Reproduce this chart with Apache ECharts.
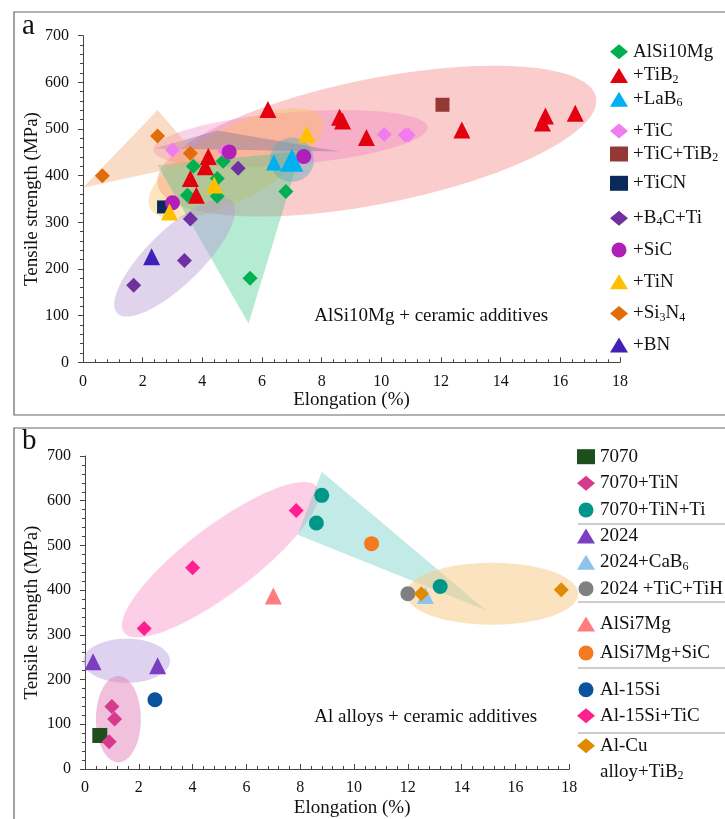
<!DOCTYPE html>
<html><head><meta charset="utf-8">
<script src="https://cdn.jsdelivr.net/npm/echarts@6/dist/echarts.min.js"></script>
<style>html,body{margin:0;padding:0;background:#fff}#c{width:725px;height:819px}</style>
</head><body><div id="c"></div>
<script>
// ---------- Panel a data: [elongation %, tensile strength MPa] ----------
const aAlSi10Mg = [[3.7,420],[4.7,431],[4.5,394],[3.5,358],[4.5,356],[6.8,366],[5.6,180]];
const aTiB2 = [[4.2,441],[4.1,419],[3.6,394],[3.8,358],[6.2,542],[8.6,525],[8.7,517],[9.5,482],[12.7,498],[15.5,528],[15.4,513],[16.5,534]];
const aLaB6 = [[6.4,428],[7.0,433]];
const aTiC = [[3.0,455],[4.75,453],[10.1,488],[10.8,487],[10.9,487]];
const aTiCTiB2 = [[12.05,552]];
const aTiCN = [[2.7,333]];
const aB4CTi = [[5.2,416],[3.6,307],[3.4,218],[1.7,165]];
const aSiC = [[4.9,451],[7.4,441],[3.0,342]];
const aTiN = [[4.4,380],[2.9,322],[7.5,489]];
const aSi3N4 = [[0.65,400],[2.5,485],[3.6,448]];
const aBN = [[2.3,226]];

// ---------- Panel b data ----------
const b7070 = [[0.55,75]];
const b7070TiN = [[1.0,140],[1.1,112],[0.9,61]];
const b7070TiNTi = [[8.8,612],[8.6,550],[13.2,408]];
const b2024 = [[0.3,240],[2.7,231]];
const b2024CaB6 = [[12.65,388]];
const b2024TiCTiH = [[12.0,392]];
const bAlSi7Mg = [[7.0,387]];
const bAlSi7MgSiC = [[10.65,504]];
const bAl15Si = [[2.6,155]];
const bAl15SiTiC = [[2.2,314],[4.0,450],[7.85,578]];
const bAlCuTiB2 = [[12.5,392],[17.7,401]];

// axis ticks
const xMin = 0, xMax = 18, xStep = 2;
const yMin = 0, yMax = 700, yStep = 100;

// shaded group regions (data coordinates)
const regionsA = [
  {kind:'ellipse', a:[2.5,380], b:[17.2,568], ratio:0.28, fill:'rgba(245,120,120,0.38)'},
  {kind:'ellipse', a:[2.35,455], b:[11.55,504], ratio:0.19, fill:'rgba(240,110,190,0.30)'},
  {kind:'ellipse', a:[2.25,330], b:[8.0,523], ratio:0.37, fill:'rgba(250,190,90,0.40)'},
  {kind:'polygon', pts:[[2.4,458],[4.5,497],[8.6,452]], fill:'rgba(110,100,150,0.35)'},
  {kind:'polygon', pts:[[2.5,423],[7.3,452],[5.55,83]], fill:'rgba(60,200,140,0.38)'},
  {kind:'ellipse', a:[1.15,105], b:[5.0,345], ratio:0.34, fill:'rgba(180,150,210,0.42)'},
  {kind:'polygon', pts:[[0,374],[2.5,541],[4.0,430]], fill:'rgba(240,170,120,0.42)'},
  {kind:'ellipse', a:[6.26,434], b:[7.74,434], ratio:1, fill:'rgba(90,170,190,0.45)'}
];
const regionsB = [
  {kind:'ellipse', a:[1.45,305], b:[8.62,631], ratio:0.28, fill:'rgba(250,160,205,0.5)'},
  {kind:'polygon', pts:[[8.8,665],[7.9,524],[14.9,355]], fill:'rgba(110,205,195,0.42)'},
  {kind:'ellipse', a:[11.93,392], b:[18.33,392], ratio:0.36, fill:'rgba(250,200,130,0.5)'},
  {kind:'ellipse', a:[-0.06,242], b:[3.16,242], ratio:0.51, fill:'rgba(190,165,225,0.5)'},
  {kind:'ellipse', a:[1.24,208], b:[1.24,15], ratio:0.52, fill:'rgba(225,130,185,0.5)'}
];
const noteA = {text:'AlSi10Mg + ceramic additives', at:[11.67,99]};
const noteB = {text:'Al alloys + ceramic additives', at:[12.66,116]};

const SERIF = 'Liberation Serif';
const labelMap = {
  '+TiB2':'+TiB{s|2}', '+LaB6':'+LaB{s|6}', '+TiC+TiB2':'+TiC+TiB{s|2}',
  '+B4C+Ti':'+B{s|4}C+Ti', '+Si3N4':'+Si{s|3}N{s|4}', '2024+CaB6':'2024+CaB{s|6}',
  'Al-Cu alloy+TiB2':'Al-Cu'
};

function ellipsePts(p1,p2,ratio){
  const cx=(p1[0]+p2[0])/2, cy=(p1[1]+p2[1])/2;
  const dx=p2[0]-p1[0], dy=p2[1]-p1[1];
  const A=Math.hypot(dx,dy)/2, B=A*ratio, t=Math.atan2(dy,dx);
  const pts=[];
  for(let k=0;k<90;k++){
    const u=k/90*2*Math.PI, ex=A*Math.cos(u), ey=B*Math.sin(u);
    pts.push([cx+ex*Math.cos(t)-ey*Math.sin(t), cy+ex*Math.sin(t)+ey*Math.cos(t)]);
  }
  return pts;
}
function regionSeries(regions, gi){
  return {
    type:'custom', xAxisIndex:gi, yAxisIndex:gi, silent:true, z:1, clip:false,
    data: regions.map(r => r.kind==='polygon' ? r.pts[0] : r.a),
    renderItem: function(params, api){
      const r = regions[params.dataIndex];
      let pts;
      if (r.kind==='polygon') pts = r.pts.map(p => api.coord(p));
      else pts = ellipsePts(api.coord(r.a), api.coord(r.b), r.ratio);
      return {type:'polygon', shape:{points:pts}, style:{fill:r.fill, stroke:null}};
    }
  };
}
function noteSeries(note, gi){
  return {
    type:'custom', xAxisIndex:gi, yAxisIndex:gi, silent:true, z:3,
    data:[note.at],
    renderItem: function(params, api){
      const p = api.coord(note.at);
      return {type:'text', x:p[0], y:p[1], style:{text:note.text, fontFamily:SERIF, fontSize:19, fill:'#111', align:'center', verticalAlign:'middle'}};
    }
  };
}
function sc(name, data, symbol, size, color, gi){
  return {name, type:'scatter', xAxisIndex:gi, yAxisIndex:gi, data, symbol, symbolSize:size,
    itemStyle:{color, opacity:1}, z:5, emphasis:{disabled:true}};
}
function xAx(gi, gap, pad){
  return {type:'value', gridIndex:gi, min:xMin, max:xMax, interval:xStep,
    axisLine:{show:true, lineStyle:{color:'#444', width:1}},
    axisTick:{show:true, inside:true, length:5, lineStyle:{color:'#444'}},
    minorTick:{show:true, splitNumber:5, length:3, lineStyle:{color:'#444'}},
    splitLine:{show:false},
    axisLabel:{margin:11, fontFamily:SERIF, fontSize:16, color:'#111'},
    name:'Elongation (%)', nameLocation:'middle', nameGap:gap, nameMoveOverlap:false,
    nameTextStyle:{fontFamily:SERIF, fontSize:19, color:'#111', padding:pad}};
}
function yAx(gi, gap){
  return {type:'value', gridIndex:gi, min:yMin, max:yMax, interval:yStep,
    axisLine:{show:true, lineStyle:{color:'#444', width:1}},
    axisTick:{show:true, inside:false, length:5, lineStyle:{color:'#444'}},
    minorTick:{show:true, splitNumber:5, length:3, lineStyle:{color:'#444'}},
    splitLine:{show:false},
    axisLabel:{margin:14, fontFamily:SERIF, fontSize:16, color:'#111'},
    name:'Tensile strength (MPa)', nameLocation:'middle', nameGap:gap, nameRotate:90, nameMoveOverlap:false,
    nameTextStyle:{fontFamily:SERIF, fontSize:19, color:'#111'}};
}
function lg(names, left, firstCenter, spacing){
  return {orient:'vertical', left:left, top:firstCenter-10, padding:0,
    itemWidth:18, itemHeight:15, itemGap:spacing-20, selectedMode:false,
    data:names, formatter:n => labelMap[n] || n,
    textStyle:{fontFamily:SERIF, fontSize:19, color:'#111', lineHeight:20,
      rich:{s:{fontFamily:SERIF, fontSize:12, lineHeight:12, verticalAlign:'bottom', color:'#111'}}}};
}

const series = [
  regionSeries(regionsA, 0), regionSeries(regionsB, 1),
  noteSeries(noteA, 0), noteSeries(noteB, 1),
  sc('AlSi10Mg', aAlSi10Mg, 'diamond', 15, '#00b050', 0),
  sc('+TiB2', aTiB2, 'triangle', 17, '#e3000f', 0),
  sc('+LaB6', aLaB6, 'triangle', (v,p)=> p.dataIndex===1 ? 23 : 16, '#00b0f0', 0),
  sc('+TiC', aTiC, 'diamond', 15, '#f07cf0', 0),
  sc('+TiC+TiB2', aTiCTiB2, 'rect', 14, '#953735', 0),
  sc('+TiCN', aTiCN, 'rect', 13, '#0a2a5e', 0),
  sc('+B4C+Ti', aB4CTi, 'diamond', 15, '#7030a0', 0),
  sc('+SiC', aSiC, 'circle', 15, '#b020b8', 0),
  sc('+TiN', aTiN, 'triangle', 17, '#ffc000', 0),
  sc('+Si3N4', aSi3N4, 'diamond', 15, '#e26b0a', 0),
  sc('+BN', aBN, 'triangle', 17, '#4120b8', 0),
  sc('7070', b7070, 'rect', 15, '#1e4d1e', 1),
  sc('7070+TiN', b7070TiN, 'diamond', 15, '#d63a8c', 1),
  sc('7070+TiN+Ti', b7070TiNTi, 'circle', 15, '#00968a', 1),
  sc('2024', b2024, 'triangle', 17, '#7a3fbf', 1),
  sc('2024+CaB6', b2024CaB6, 'triangle', 17, '#8ec3ea', 1),
  sc('2024 +TiC+TiH', b2024TiCTiH, 'circle', 15, '#808080', 1),
  sc('AlSi7Mg', bAlSi7Mg, 'triangle', 17, '#ff7c80', 1),
  sc('AlSi7Mg+SiC', bAlSi7MgSiC, 'circle', 15, '#f47a20', 1),
  sc('Al-15Si', bAl15Si, 'circle', 15, '#0b529c', 1),
  sc('Al-15Si+TiC', bAl15SiTiC, 'diamond', 15, '#ff1f8f', 1),
  sc('Al-Cu alloy+TiB2', bAlCuTiB2, 'diamond', 15, '#e08a00', 1)
];

const chart = echarts.init(document.getElementById('c'), null, {renderer:'canvas'});
chart.setOption({
  animation:false,
  backgroundColor:'#fff',
  grid:[
    {left:83, top:35.7, width:537, height:326.6},
    {left:85, top:456, width:484.3, height:314}
  ],
  xAxis:[xAx(0, 28, [0,0,0,0]), xAx(1, 30, [0,0,0,50])],
  yAxis:[yAx(0, 41), yAx(1, 43)],
  legend:[
    lg(['AlSi10Mg','+TiB2','+LaB6'], 610, 51.7, 23.8),
    lg(['+TiC','+TiC+TiB2'], 610, 131, 23),
    lg(['+TiCN'], 610, 183.3, 30),
    lg(['+B4C+Ti','+SiC','+TiN','+Si3N4','+BN'], 610, 218.3, 31.7),
    lg(['7070','7070+TiN','7070+TiN+Ti'], 577, 456.7, 26.65),
    lg(['2024','2024+CaB6','2024 +TiC+TiH'], 577, 536, 26.35),
    lg(['AlSi7Mg','AlSi7Mg+SiC'], 577, 624, 29),
    lg(['Al-15Si','Al-15Si+TiC'], 577, 689.7, 26),
    lg(['Al-Cu alloy+TiB2'], 577, 745.7, 30)
  ],
  graphic:[
    {type:'rect', shape:{x:14, y:12, width:740, height:403}, style:{fill:null, stroke:'#666', lineWidth:1.2}, silent:true},
    {type:'rect', shape:{x:14, y:428, width:740, height:420}, style:{fill:null, stroke:'#666', lineWidth:1.2}, silent:true},
    {type:'text', x:22, y:12, style:{text:'a', fontFamily:SERIF, fontSize:29, fill:'#111'}},
    {type:'text', x:22, y:427, style:{text:'b', fontFamily:SERIF, fontSize:29, fill:'#111'}},
    {type:'line', shape:{x1:578, y1:524, x2:725, y2:524}, style:{stroke:'#999', lineWidth:1}},
    {type:'line', shape:{x1:578, y1:602, x2:725, y2:602}, style:{stroke:'#999', lineWidth:1}},
    {type:'line', shape:{x1:578, y1:668, x2:725, y2:668}, style:{stroke:'#999', lineWidth:1}},
    {type:'line', shape:{x1:578, y1:733, x2:725, y2:733}, style:{stroke:'#999', lineWidth:1}},
    {type:'text', x:600, y:771.7, style:{text:'alloy+TiB{s|2}', fontFamily:SERIF, fontSize:19, fill:'#111', verticalAlign:'middle', lineHeight:20,
      rich:{s:{fontFamily:SERIF, fontSize:12, lineHeight:12, verticalAlign:'bottom', fill:'#111'}}}}
  ],
  series: series
});
</script></body></html>
